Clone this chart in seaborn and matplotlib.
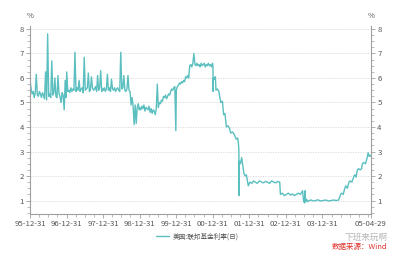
import numpy as np
import pandas as pd
import matplotlib
matplotlib.use("Agg")
import matplotlib.pyplot as plt
import matplotlib.dates as mdates
from matplotlib.ticker import MultipleLocator, FixedLocator
import seaborn as sns

# ---------------- data ----------------
# 1996-2000: ~10-day samples, 36 per year
rates_1996 = [5.9, 5.55, 5.35, 5.45, 5.2, 5.4, 6.15, 5.3, 5.25, 5.45, 5.35, 5.2,
              5.4, 5.3, 5.15, 6.25, 5.1, 7.8, 5.25, 5.35, 5.2, 6.7, 5.3, 5.4,
              6.0, 5.25, 5.2, 6.1, 5.35, 5.25, 5.0, 5.4, 5.3, 4.7, 5.9, 5.2]
rates_1997 = [6.25, 5.45, 5.5, 5.4, 5.6, 5.45, 5.55, 5.5, 7.05, 5.45, 5.6, 5.5,
              5.9, 5.45, 5.55, 5.6, 5.4, 6.85, 5.5, 5.55, 5.6, 6.2, 5.45, 5.5,
              6.05, 5.6, 5.5, 5.55, 5.65, 5.45, 6.1, 5.5, 5.6, 6.3, 5.45, 5.55]
rates_1998 = [5.5, 5.6, 5.45, 5.55, 6.15, 5.5, 5.6, 5.45, 5.95, 5.55, 5.5, 5.6,
              5.45, 5.55, 5.6, 5.5, 5.45, 7.05, 5.55, 5.6, 6.1, 5.5, 5.45, 5.55,
              6.1, 5.5, 5.45, 4.9, 5.2, 4.85, 4.1, 4.9, 4.15, 4.8, 4.95, 4.7]
rates_1999 = [4.8, 4.7, 4.85, 4.75, 4.9, 4.65, 4.8, 4.75, 4.7, 4.85, 4.6, 4.75,
              4.55, 4.7, 4.65, 4.5, 4.75, 5.75, 4.8, 5.0, 4.95, 5.1, 5.05, 5.25,
              5.2, 5.3, 5.15, 5.25, 5.35, 5.3, 5.45, 5.55, 5.5, 5.6, 5.65, 3.85]
rates_2000 = [5.5, 5.65, 5.7, 5.8, 5.75, 5.85, 5.8, 5.9, 5.85, 6.05, 6.0, 6.1,
              6.0, 6.5, 6.55, 6.45, 6.6, 7.0, 6.55, 6.5, 6.6, 6.5, 6.55, 6.45,
              6.6, 6.5, 6.55, 6.6, 6.45, 6.55, 6.5, 6.6, 6.5, 6.55, 6.45, 6.6]
years_sampled = [1996, 1997, 1998, 1999, 2000]

# 2001-2005: explicit dates and values
dates_late = ["2001-01-01", "2001-01-03", "2001-01-05", "2001-01-15", "2001-01-25",
              "2001-01-31", "2001-02-15", "2001-03-01", "2001-03-20", "2001-04-05",
              "2001-04-18", "2001-05-01", "2001-05-15", "2001-06-01", "2001-06-15",
              "2001-06-27", "2001-07-15", "2001-08-01", "2001-08-21", "2001-09-05",
              "2001-09-12", "2001-09-17", "2001-09-19", "2001-09-21", "2001-10-02",
              "2001-10-15", "2001-10-25", "2001-11-06", "2001-11-20", "2001-12-01",
              "2001-12-11", "2001-12-20", "2002-01-05", "2002-01-25", "2002-02-10",
              "2002-03-01", "2002-03-20", "2002-04-10", "2002-05-01", "2002-05-20",
              "2002-06-10", "2002-07-01", "2002-07-20", "2002-08-10", "2002-09-01",
              "2002-09-20", "2002-10-10", "2002-10-30", "2002-11-06", "2002-11-25",
              "2002-12-15", "2003-01-05", "2003-01-25", "2003-02-15", "2003-03-05",
              "2003-03-25", "2003-04-15", "2003-05-05", "2003-05-25", "2003-06-15",
              "2003-06-25", "2003-07-05", "2003-07-10", "2003-07-15", "2003-07-25",
              "2003-08-05", "2003-08-20", "2003-09-10", "2003-10-01", "2003-10-25",
              "2003-11-15", "2003-12-10", "2004-01-05", "2004-02-01", "2004-03-01",
              "2004-03-25", "2004-04-20", "2004-05-15", "2004-06-10", "2004-06-30",
              "2004-07-10", "2004-07-25", "2004-08-10", "2004-08-20", "2004-09-05",
              "2004-09-21", "2004-10-01", "2004-10-20", "2004-11-10", "2004-11-20",
              "2004-12-01", "2004-12-14", "2004-12-25", "2005-01-10", "2005-01-25",
              "2005-02-02", "2005-02-15", "2005-03-05", "2005-03-22", "2005-03-31",
              "2005-04-10", "2005-04-20", "2005-04-29"]
rates_late = [6.5, 5.45, 6.0, 5.95, 6.05,
              5.5, 5.55, 5.45, 5.0, 5.05,
              4.5, 4.55, 4.0, 4.05, 3.95,
              3.75, 3.8, 3.7, 3.5, 3.55,
              3.35, 3.05, 1.2, 2.6, 2.5,
              2.75, 2.45, 2.1, 2.0, 2.05,
              1.8, 1.6, 1.75, 1.7, 1.8,
              1.75, 1.7, 1.8, 1.75, 1.72,
              1.78, 1.75, 1.7, 1.8, 1.75,
              1.72, 1.78, 1.75, 1.25, 1.3,
              1.2, 1.25, 1.3, 1.22, 1.27,
              1.2, 1.25, 1.3, 1.25, 1.4,
              1.0, 0.9, 1.4, 0.95, 1.05,
              0.95, 1.0, 1.02, 0.98, 1.0,
              1.03, 0.98, 1.0, 1.02, 0.98,
              1.0, 1.02, 1.0, 1.02, 1.25,
              1.3, 1.25, 1.5, 1.6, 1.5,
              1.75, 1.8, 1.75, 2.0, 2.05,
              1.95, 2.25, 2.3, 2.25, 2.3,
              2.5, 2.55, 2.5, 2.75, 2.95,
              2.8, 2.85, 2.8]

tick_dates = ["1995-12-31", "1996-12-31", "1997-12-31", "1998-12-31", "1999-12-31",
              "2000-12-31", "2001-12-31", "2002-12-31", "2003-12-31", "2005-04-29"]
tick_labels = ["95-12-31", "96-12-31", "97-12-31", "98-12-31", "99-12-31",
               "00-12-31", "01-12-31", "02-12-31", "03-12-31", "05-04-29"]
y_ticks = [1, 2, 3, 4, 5, 6, 7, 8]
series_name = "美国:联邦基金利率(日)"

# ---------------- build table ----------------
early_vals = [rates_1996, rates_1997, rates_1998, rates_1999, rates_2000]
frames = []
for yr, vals in zip(years_sampled, early_vals):
    d = pd.date_range(f"{yr}-01-01", f"{yr}-12-27", periods=len(vals))
    frames.append(pd.DataFrame({"date": d, "rate": vals}))
frames.append(pd.DataFrame({"date": pd.to_datetime(dates_late), "rate": rates_late}))
df = pd.concat(frames, ignore_index=True)

# ---------------- style ----------------
sns.set_theme(style="white")
plt.rcParams["font.family"] = ["Noto Sans CJK SC", "DejaVu Sans"]

line_color = "#5BBFC0"
spine_color = "#A0A0A0"
text_color = "#555555"

fig = plt.figure(figsize=(4.0, 2.54), dpi=100)
ax = fig.add_axes([0.075, 0.1575, 0.8525, 0.74])

sns.lineplot(data=df, x="date", y="rate", ax=ax, color=line_color,
             linewidth=1.0, estimator=None, label=series_name, legend=False)

xmin, xmax = pd.Timestamp(tick_dates[0]), pd.Timestamp(tick_dates[-1])
ax.set_xlim(xmin, xmax)
ax.set_ylim(0.45, 8.12)

ax.xaxis.set_major_locator(FixedLocator(mdates.date2num(pd.to_datetime(tick_dates))))
ax.set_xticklabels(tick_labels)
q = pd.date_range(xmin, xmax, freq="QE")
ax.xaxis.set_minor_locator(FixedLocator(mdates.date2num(q)))
ax.set_yticks(y_ticks)
ax.yaxis.set_minor_locator(MultipleLocator(0.25))
ax.set_xlabel("")
ax.set_ylabel("")

for s in ["top", "right"]:
    ax.spines[s].set_visible(False)
for s in ["left", "bottom"]:
    ax.spines[s].set_color(spine_color)
    ax.spines[s].set_linewidth(0.8)

ax.grid(axis="y", which="major", color="#D8D8D8", linestyle=(0, (1.5, 1.5)), linewidth=0.6)
ax.tick_params(axis="both", which="major", length=3, width=0.6, color=spine_color,
               labelsize=5.6, labelcolor=text_color, pad=1.5, direction="out")
ax.tick_params(axis="both", which="minor", length=2, width=0.5, color=spine_color,
               direction="out")
ax.tick_params(axis="x", which="both", bottom=True)
ax.tick_params(axis="y", which="both", left=True)

# right axis mirroring the left one
ax2 = ax.twinx()
ax2.set_ylim(ax.get_ylim())
ax2.set_yticks(y_ticks)
ax2.yaxis.set_minor_locator(MultipleLocator(0.25))
for s in ["top", "left", "bottom"]:
    ax2.spines[s].set_visible(False)
ax2.spines["right"].set_color(spine_color)
ax2.spines["right"].set_linewidth(0.8)
ax2.tick_params(axis="y", which="major", length=3, width=0.6, color=spine_color,
                labelsize=5.6, labelcolor=text_color, pad=1.5, direction="out", right=True)
ax2.tick_params(axis="y", which="minor", length=2, width=0.5, color=spine_color,
                direction="out", right=True)
ax2.grid(False)

# % units
fig.text(30 / 400, 1 - 16 / 254, "%", fontsize=5.5, color=text_color, ha="center", va="center")
fig.text(371 / 400, 1 - 16 / 254, "%", fontsize=5.5, color=text_color, ha="center", va="center")

# legend
handles, labels = ax.get_legend_handles_labels()
leg = fig.legend(handles, labels, loc="center", bbox_to_anchor=(197 / 400, 1 - 236.5 / 254),
                 frameon=False, fontsize=4.8, handlelength=2.0, handletextpad=0.5,
                 labelcolor=text_color)

# watermark and source
fig.text(388 / 400, 1 - 237 / 254, "下班来玩啊", fontsize=6.2, color="#B5B5B5",
         ha="right", va="center")
fig.text(387 / 400, 1 - 246.5 / 254, "数据来源：Wind", fontsize=5.4, color="#E0302A",
         ha="right", va="center")

fig.savefig("out.png", dpi=100)
